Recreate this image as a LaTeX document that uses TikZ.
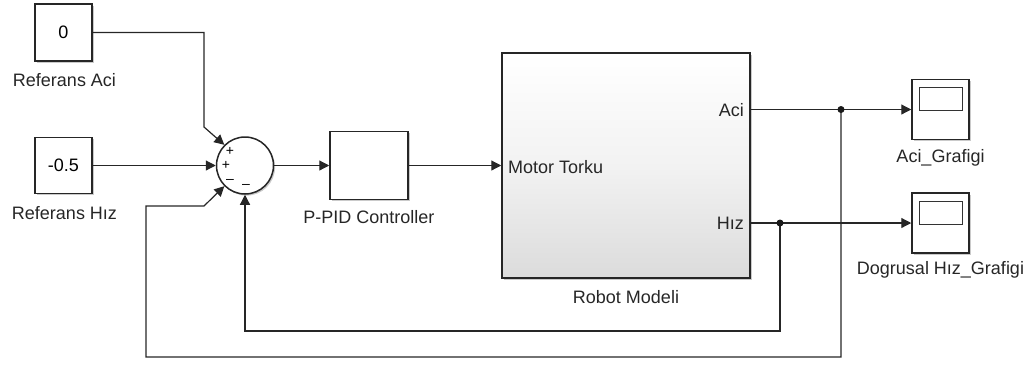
\documentclass[tikz,border=0pt]{standalone}
\usepackage{fontspec}
\setmainfont{Liberation Sans}
\usetikzlibrary{arrows.meta,shadows}
\begin{document}
\begin{tikzpicture}[x=1pt,y=-1pt,
  font=\fontsize{18}{20}\selectfont,
  blk/.style={draw=black!85, line width=1.5pt, fill=white, inner sep=0pt,
    drop shadow={shadow xshift=1.6pt, shadow yshift=-1.6pt, opacity=0.35, fill=black!60}},
  lbl/.style={inner sep=0pt, text=black!85},
  sgn/.style={inner sep=0pt, font=\fontsize{14}{14}\selectfont},
  wire/.style={draw=black!85, line width=1.2pt},
  arr/.style={wire, -{Triangle[length=10pt,width=10pt]}},
  dot/.style={fill=black!90}]
\useasboundingbox (0,0) rectangle (1033,365);

% constants
\node[blk, minimum width=57pt, minimum height=57pt] (c0) at (63.5,32.5) {0};
\node[lbl] (l0) at (64.5,80) {Referans Aci};
\node[blk, minimum width=57pt, minimum height=56pt] (c1) at (63.5,165.5) {-0.5};
\node[lbl] (l1) at (64.5,213) {Referans Hız};

% sum
\node[blk, circle, minimum size=57pt] (sum) at (245,165.5) {};
\node[sgn] (s1) at (230,151.5) {+};
\node[sgn] (s2) at (226,165) {+};
\node[sgn] (s3) at (230,181) {–};
\node[sgn] (s4) at (246,186) {–};

% controller
\node[blk, minimum width=78pt, minimum height=68pt] (pid) at (369,165.5) {};
\node[lbl] (lpid) at (369,217) {P-PID Controller};

% robot
\node[blk, minimum width=248pt, minimum height=225pt,
  top color=white, bottom color=black!14, middle color=white!95!black] (robot) at (626,165.5) {};
\node[lbl, anchor=west] (pm) at (508,167) {Motor Torku};
\node[lbl, anchor=east] (pa) at (744,110) {Aci};
\node[lbl, anchor=east] (ph) at (744,223) {Hız};
\node[lbl] (lrob) at (626,297) {Robot Modeli};

% scopes
\node[blk, minimum width=57pt, minimum height=60pt] (sc1) at (940.5,109.5) {};
\draw[line width=1pt, draw=black!80] (919,87) rectangle (962,110);
\node[lbl] (lsc1) at (940.5,158) {Aci\_Grafigi};
\node[blk, minimum width=57pt, minimum height=60pt] (sc2) at (940.5,223) {};
\draw[line width=1pt, draw=black!80] (919,201) rectangle (962,224);
\node[lbl] (lsc2) at (940.5,270) {Dogrusal Hız\_Grafigi};

% coordinates
\coordinate (b0) at (204,127);
\coordinate (pA) at (750,109.5);
\coordinate (jA) at (841,109.5);
\coordinate (pH) at (750,223);
\coordinate (jH) at (780,223);
\coordinate (fH1) at (780,331);
\coordinate (fA1) at (841,357);
\coordinate (fA2) at (146,357);
\coordinate (fA3) at (146,206);
\coordinate (fA4) at (204,206);

% wires
\draw[arr] (c0.east) -| (b0) -- (sum.north west);
\draw[arr] (c1.east) -- (sum.west);
\draw[arr] (sum.east) -- (pid.west);
\draw[arr] (pid.east) -- (robot.west);
\draw[wire] (pA) -- (jA);
\draw[arr] (jA) -- (sc1.west);
\draw[wire] (pH) -- (jH);
\draw[arr] (jH) -- (sc2.west);
\draw[arr] (jH) -- (fH1) -| (sum.south);
\draw[arr] (jA) -- (fA1) -- (fA2) -- (fA3) -- (fA4) -- (sum.south west);
\fill[dot] (jA) circle (3.5pt);
\fill[dot] (jH) circle (3.5pt);
\end{tikzpicture}
\end{document}
